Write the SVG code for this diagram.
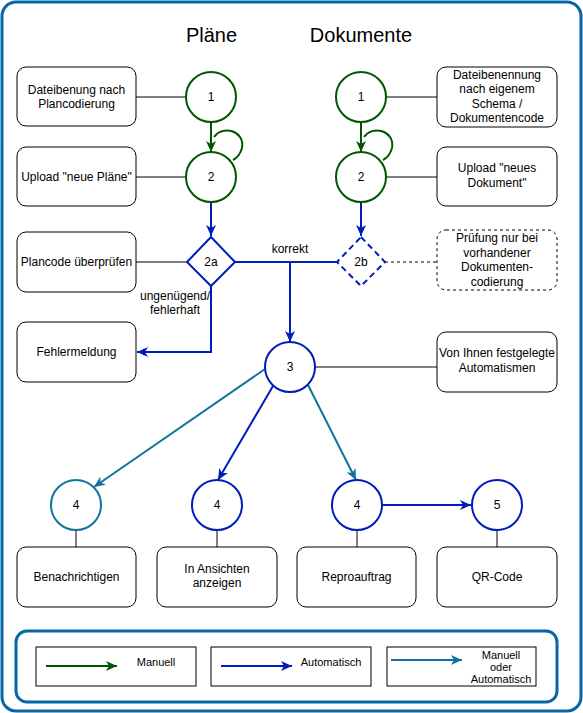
<svg xmlns="http://www.w3.org/2000/svg" width="583" height="713" viewBox="0 0 583 713">
<style>
text{font-family:"Liberation Sans",Arial,sans-serif;font-size:12px;fill:#000;text-anchor:middle;dominant-baseline:central}
.box{fill:#fff;stroke:#000;stroke-width:1}
.dbox{fill:#fff;stroke:#000;stroke-width:1;stroke-dasharray:3,3}
.ln{fill:none;stroke:#000;stroke-width:1}
.g{fill:none;stroke:#005700;stroke-width:2}
.b{fill:none;stroke:#001DBC;stroke-width:2}
.lb{fill:none;stroke:#10739E;stroke-width:2}
.cg{fill:#fff;stroke:#005700;stroke-width:2}
.cb{fill:#fff;stroke:#001DBC;stroke-width:2}
.clb{fill:#fff;stroke:#10739E;stroke-width:2}
.frame{fill:none;stroke:#0766A8;stroke-width:3}
.title{font-size:20px}
.leg{font-size:11px}
</style>
<defs>
<marker id="ag" markerUnits="userSpaceOnUse" markerWidth="12" markerHeight="10" refX="11" refY="5" orient="auto"><path d="M0,0 L11,5 L0,10 L3,5 Z" fill="#005700"/></marker>
<marker id="ab" markerUnits="userSpaceOnUse" markerWidth="12" markerHeight="10" refX="11" refY="5" orient="auto"><path d="M0,0 L11,5 L0,10 L3,5 Z" fill="#001DBC"/></marker>
<marker id="alb" markerUnits="userSpaceOnUse" markerWidth="12" markerHeight="10" refX="11" refY="5" orient="auto"><path d="M0,0 L11,5 L0,10 L3,5 Z" fill="#10739E"/></marker>
</defs>
<rect x="0" y="0" width="583" height="713" fill="#fff"/>
<rect class="frame" x="2" y="2" width="579" height="709" rx="14"/>
<text class="title" x="211.5" y="35">Pläne</text>
<text class="title" x="361" y="35">Dokumente</text>

<g id="connectors">
<path class="ln" d="M136,97 H186 M136,177 H186 M136,262 H187 M386,97 H437 M386,177 H437 M315,367 H437 M76,530 V547 M217,530 V547 M357,530 V547 M497,530 V547"/>
<path class="ln" d="M385,262 H437" stroke-dasharray="3,3"/>
<path class="g" d="M211,122 V152" marker-end="url(#ag)"/>
<path class="g" d="M361,122 V152" marker-end="url(#ag)"/>
<path class="g" d="M214,137 C222,125 245,130 242,148 C240,155 237,158 233,160"/>
<path class="g" d="M364,137 C372,125 395,130 392,148 C390,155 387,158 383,160"/>
<path class="b" d="M211,202 V236" marker-end="url(#ab)"/>
<path class="b" d="M361,202 V236" marker-end="url(#ab)"/>
<path class="b" d="M235,262 H338"/>
<path class="b" d="M290,262 V342" marker-end="url(#ab)"/>
<path class="b" d="M211,286 V352 H137" marker-end="url(#ab)"/>
<path class="lb" d="M265,369 L94,487" marker-end="url(#alb)"/>
<path class="b" d="M273,386 L218,480" marker-end="url(#ab)"/>
<path class="lb" d="M308,385 L356,480" marker-end="url(#alb)"/>
<path class="b" d="M382,505 H471" marker-end="url(#ab)"/>
<text x="290" y="249">korrekt</text>
<text x="175" y="296">ungenügend/</text>
<text x="175" y="310">fehlerhaft</text>
</g>

<g id="box-dateibenung"><rect class="box" x="17" y="67" width="119" height="59" rx="9"/><text x="76.5" y="90">Dateibenung nach</text><text x="76.5" y="104">Plancodierung</text></g>
<g id="box-upload-plaene"><rect class="box" x="17" y="147" width="119" height="59" rx="9"/><text x="76.5" y="177">Upload "neue Pläne"</text></g>
<g id="box-plancode"><rect class="box" x="17" y="232" width="119" height="60" rx="9"/><text x="76.5" y="262">Plancode überprüfen</text></g>
<g id="box-fehler"><rect class="box" x="17" y="322" width="119" height="60" rx="9"/><text x="76.5" y="352">Fehlermeldung</text></g>
<g id="box-dateibenennung"><rect class="box" x="437" y="67" width="120" height="60" rx="9"/><text x="497" y="75">Dateibenennung</text><text x="497" y="89">nach eigenem</text><text x="497" y="104">Schema /</text><text x="497" y="118">Dokumentencode</text></g>
<g id="box-upload-dok"><rect class="box" x="437" y="147" width="120" height="59" rx="9"/><text x="497" y="168">Upload "neues</text><text x="497" y="183">Dokument"</text></g>
<g id="box-pruefung"><rect class="dbox" x="437" y="230" width="120" height="60" rx="9"/><text x="497" y="238">Prüfung nur bei</text><text x="497" y="253">vorhandener</text><text x="497" y="267">Dokumenten-</text><text x="497" y="282">codierung</text></g>
<g id="box-automatismen"><rect class="box" x="437" y="332" width="120" height="60" rx="9"/><text x="497" y="353">Von Ihnen festgelegte</text><text x="497" y="368">Automatismen</text></g>

<g id="p1"><circle class="cg" cx="211" cy="97" r="25"/><text x="211" y="97">1</text></g>
<g id="p2"><circle class="cg" cx="211" cy="177" r="25"/><text x="211" y="177">2</text></g>
<g id="d1"><circle class="cg" cx="361" cy="97" r="25"/><text x="361" y="97">1</text></g>
<g id="d2"><circle class="cg" cx="361" cy="177" r="25"/><text x="361" y="177">2</text></g>
<g id="n2a"><polygon fill="#fff" stroke="#001DBC" stroke-width="2" points="211,237 235,262 211,286 187,262"/><text x="211" y="262">2a</text></g>
<g id="n2b"><polygon fill="#fff" stroke="#001DBC" stroke-width="2" stroke-dasharray="6,4" points="361,237 385,262 361,286 337,262"/><text x="361" y="262">2b</text></g>
<g id="n3"><circle class="cb" cx="290" cy="367" r="25"/><text x="290" y="367">3</text></g>
<g id="n4a"><circle class="clb" cx="76" cy="505" r="25"/><text x="76" y="505">4</text></g>
<g id="n4b"><circle class="cb" cx="217" cy="505" r="25"/><text x="217" y="505">4</text></g>
<g id="n4c"><circle class="cb" cx="357" cy="505" r="25"/><text x="357" y="505">4</text></g>
<g id="n5"><circle class="cb" cx="497" cy="505" r="25"/><text x="497" y="505">5</text></g>

<g id="box-benachrichtigen"><rect class="box" x="17" y="547" width="119" height="60" rx="9"/><text x="76.5" y="577">Benachrichtigen</text></g>
<g id="box-ansichten"><rect class="box" x="157" y="547" width="120" height="60" rx="9"/><text x="217" y="569">In Ansichten</text><text x="217" y="583">anzeigen</text></g>
<g id="box-repro"><rect class="box" x="297" y="547" width="119" height="60" rx="9"/><text x="356.5" y="577">Reproauftrag</text></g>
<g id="box-qr"><rect class="box" x="437" y="547" width="120" height="60" rx="9"/><text x="497" y="577">QR-Code</text></g>

<g id="legend">
<rect class="frame" x="16" y="631" width="541" height="71" rx="11"/>
<rect class="box" x="36" y="647" width="160" height="39"/>
<rect class="box" x="211" y="647" width="160" height="39"/>
<rect class="box" x="387" y="647" width="149" height="39"/>
<path class="g" d="M46,666 H117" marker-end="url(#ag)"/>
<path class="b" d="M221,666 H292" marker-end="url(#ab)"/>
<path class="lb" d="M391,660 H462" marker-end="url(#alb)"/>
<text class="leg" x="156" y="662">Manuell</text>
<text class="leg" x="331" y="662">Automatisch</text>
<text class="leg" x="501" y="655">Manuell</text>
<text class="leg" x="501" y="667">oder</text>
<text class="leg" x="501" y="679">Automatisch</text>
</g>
</svg>
